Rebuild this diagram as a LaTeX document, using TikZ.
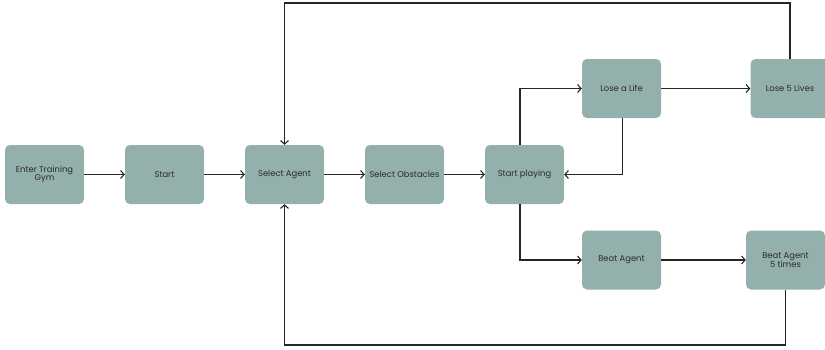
\documentclass[tikz,border=0pt]{standalone}
\usepackage{fontspec}
\setmainfont{Poppins}
\usetikzlibrary{arrows.meta}
\definecolor{boxgreen}{HTML}{94B0AC}
\definecolor{boxtext}{HTML}{2B2B2B}

\begin{document}
\begin{tikzpicture}[x=1pt,y=-1pt,
    stage/.style={rectangle, rounded corners=5pt, fill=boxgreen, minimum width=79pt, minimum height=59pt, inner sep=1pt, align=center, text=boxtext, font=\fontsize{8.4}{8.6}\selectfont},
    arr/.style={draw=black!85, line width=1.1pt, -{Straight Barb[length=3.5pt,width=8pt]}}]
    \useasboundingbox (0,0) rectangle (825,349);
    \clip (0,0) rectangle (825,349);

    % Main row
    \node[stage] (gym) at (44.5,174.5) {Enter Training\\Gym};
    \node[stage] (start) at (164.5,174.5) {Start};
    \node[stage] (agent) at (284.5,174.5) {Select Agent};
    \node[stage] (obst) at (404.5,174.5) {Select Obstacles};
    \node[stage] (play) at (524.5,174.5) {Start playing};

    % Upper and lower branch
    \node[stage] (life) at (621.5,88.5) {Lose a Life};
    \node[stage] (lives) at (790,88.5) {Lose 5 Lives};
    \node[stage] (beat) at (621.5,260) {Beat Agent};
    \node[stage] (beat5) at (785.5,260) {Beat Agent\\5 times};

    \coordinate (topleft) at (284.5,3);
    \coordinate (botleft) at (284.5,345);

    \draw[arr] (gym) -- (start);
    \draw[arr] (start) -- (agent);
    \draw[arr] (agent) -- (obst);
    \draw[arr] (obst) -- (play);

    \draw[arr] ([xshift=-4.5pt]play.north) |- (life.west);
    \draw[arr] ([xshift=-4.5pt]play.south) |- (beat.west);
    \draw[arr] ([xshift=1pt]life.south) |- (play.east);
    \draw[arr] (life) -- (lives);
    \draw[arr] (beat) -- (beat5);

    \draw[arr] (lives.north) |- (topleft) -- (agent.north);
    \draw[arr] (beat5.south) |- (botleft) -- (agent.south);
\end{tikzpicture}
\end{document}
